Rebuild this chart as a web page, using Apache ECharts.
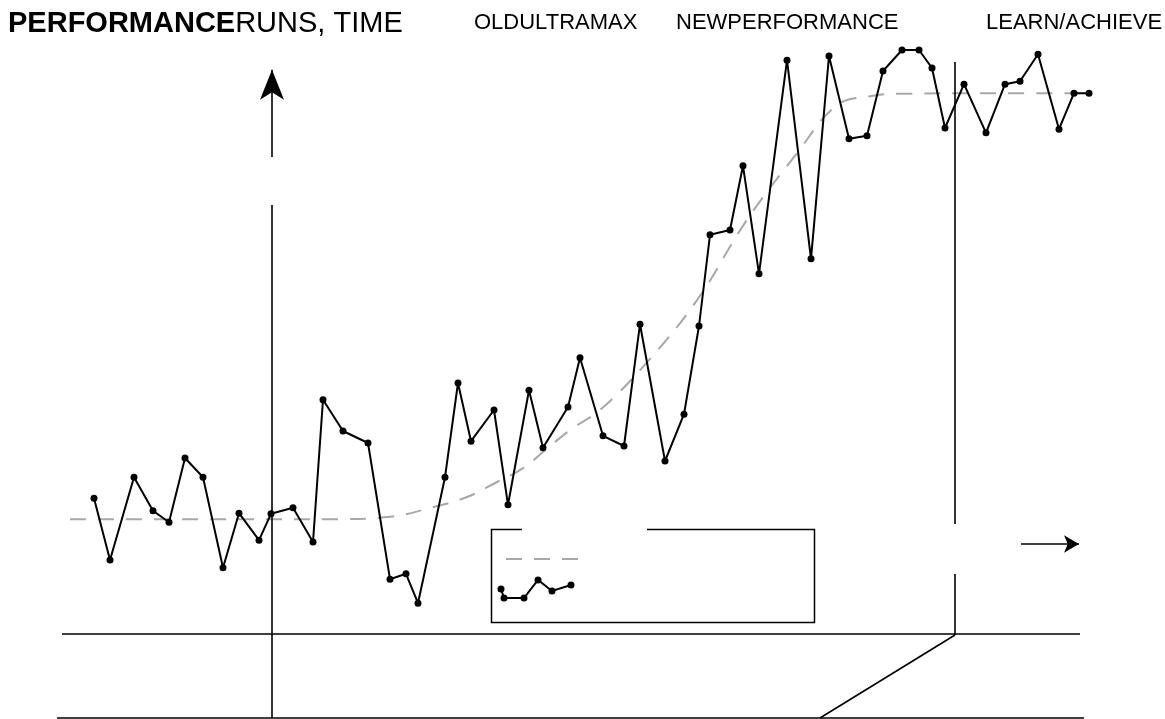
<!DOCTYPE html>
<html>
<head>
<meta charset="utf-8">
<script src="https://cdn.jsdelivr.net/npm/echarts@6/dist/echarts.min.js"></script>
<style>
html,body{margin:0;padding:0;background:#fff;}
#chart{width:1165px;height:719px;}
</style>
</head>
<body>
<div id="chart"></div>
<script>
// Runs (time) and performance values
const runTime = [9.4,11.0,13.4,15.3,16.9,18.5,20.3,22.3,23.9,25.9,27.1,29.3,31.3,32.3,34.3,36.8,39.0,40.6,41.8,44.5,45.8,47.1,49.4,50.8,52.9,54.3,56.8,58.0,60.3,62.4,64.0,66.5,68.4,69.9,71.0,73.0,74.3,75.9,78.7,81.1,82.9,84.9,86.7,88.3,90.2,91.9,93.2,94.5,96.4,98.6,100.5,102.0,103.8,105.9,107.4,108.9];
const performance = [36.8,26.5,40.3,34.7,32.8,43.5,40.3,25.2,34.3,29.8,34.2,35.2,29.5,53.2,48.0,46.0,23.3,24.2,19.3,40.3,56.0,46.3,51.5,35.7,54.8,45.2,52.0,60.2,47.2,45.5,65.8,43.0,50.8,65.5,80.7,81.5,92.2,74.2,109.8,76.7,110.5,96.7,97.2,108.0,111.5,111.5,108.5,98.5,105.8,97.7,105.8,106.3,110.8,98.3,104.3,104.3];
// Trend curve (old ultramax -> new performance)
const trendTime = [7.0,20.0,33.0,39.0,43.3,46.7,49.7,52.3,55.0,57.3,60.0,64.3,69.7,74.7,79.7,83.7,87.0,90.0,100.0,109.0];
const trendValue = [33.3,33.3,33.3,33.7,35.3,37.0,39.5,41.8,45.5,48.5,51.5,58.7,69.8,83.2,94.3,102.3,103.8,104.2,104.3,104.3];
// Top labels
const titleBold = 'PERFORMANCE';
const titleRest = 'RUNS, TIME';
const phaseLabels = ['OLDULTRAMAX', 'NEWPERFORMANCE', 'LEARN/ACHIEVE'];
// Guide lines in data coordinates: [x1, y1, x2, y2, arrowAtEnd]
const guideLines = [
  [27.2, 0.17, 27.2, 85.67, 0],
  [27.2, 93.67, 27.2, 108.2, 1],
  [95.5, 32.5, 95.5, 109.5, 0],
  [95.5, 14.0, 95.5, 24.17, 0],
  [6.2, 14.17, 108.0, 14.17, 0],
  [5.7, 0.17, 108.4, 0.17, 0],
  [95.5, 14.0, 82.0, 0.17, 0],
  [102.1, 29.17, 107.9, 29.17, 2]
];

const pairs = runTime.map((t, i) => [t, performance[i]]);
const trend = trendTime.map((t, i) => [t, trendValue[i]]);

const markData = guideLines.map(g => {
  const end = { coord: [g[2], g[3]], symbol: 'none' };
  if (g[4] === 1) { end.symbol = 'arrow'; end.symbolSize = [18, 30]; }
  if (g[4] === 2) { end.symbol = 'arrow'; end.symbolSize = [13, 15]; }
  return [{ coord: [g[0], g[1]], symbol: 'none' }, end];
});

const chart = echarts.init(document.getElementById('chart'), null, { renderer: 'canvas' });
const font = 'Arial, "Liberation Sans", sans-serif';
const labelStyle = { fontFamily: font, fontSize: 22, fontWeight: 'normal', color: '#000' };

chart.setOption({
  animation: false,
  backgroundColor: '#fff',
  title: [
    { left: 8, top: 9, padding: 0, text: '{b|' + titleBold + '}{r|' + titleRest + '}',
      textStyle: { rich: {
        b: { fontFamily: font, fontSize: 29, fontWeight: 'bold', color: '#000' },
        r: { fontFamily: font, fontSize: 29, fontWeight: 'normal', color: '#000' } } } },
    { left: 474, top: 12, padding: 0, text: phaseLabels[0], textStyle: labelStyle },
    { left: 676, top: 12, padding: 0, text: phaseLabels[1], textStyle: labelStyle },
    { left: 986, top: 12, padding: 0, text: phaseLabels[2], textStyle: labelStyle }
  ],
  grid: { left: 0, right: 0, top: 11, bottom: 0 },
  xAxis: { type: 'value', min: 0, max: 116.5, show: false },
  yAxis: { type: 'value', min: 0, max: 118, show: false },
  series: [
    { type: 'line', name: 'guides', data: [], silent: true,
      markLine: { silent: true, animation: false, symbol: ['none', 'none'],
        label: { show: false },
        lineStyle: { color: '#000', width: 1.6, type: 'solid' },
        emphasis: { disabled: true },
        data: markData } },
    { type: 'line', name: 'trend', data: trend, smooth: 0.4, showSymbol: false, symbol: 'none',
      lineStyle: { color: '#a8a8a8', width: 2, type: [16, 12] }, z: 2 },
    { type: 'line', name: 'performance', data: pairs, symbol: 'circle', symbolSize: 7, showSymbol: true,
      lineStyle: { color: '#000', width: 2 }, itemStyle: { color: '#000' }, z: 3 }
  ],
  graphic: [
    { type: 'polyline', silent: true, shape: { points: [[522,529.5],[491.5,529.5],[491.5,622.5],[814.5,622.5],[814.5,529.5],[647,529.5]] },
      style: { stroke: '#000', lineWidth: 1.5, fill: null } },
    { type: 'line', silent: true, shape: { x1: 506, y1: 559, x2: 580, y2: 559 },
      style: { stroke: '#a8a8a8', lineWidth: 2, lineDash: [16, 12] } },
    { type: 'polyline', silent: true, shape: { points: [[501,589],[504,598],[524,598],[538,580],[552,591],[571,585]] },
      style: { stroke: '#000', lineWidth: 2, fill: null } },
    { type: 'circle', silent: true, shape: { cx: 501, cy: 589, r: 3.5 }, style: { fill: '#000' } },
    { type: 'circle', silent: true, shape: { cx: 504, cy: 598, r: 3.5 }, style: { fill: '#000' } },
    { type: 'circle', silent: true, shape: { cx: 524, cy: 598, r: 3.5 }, style: { fill: '#000' } },
    { type: 'circle', silent: true, shape: { cx: 538, cy: 580, r: 3.5 }, style: { fill: '#000' } },
    { type: 'circle', silent: true, shape: { cx: 552, cy: 591, r: 3.5 }, style: { fill: '#000' } },
    { type: 'circle', silent: true, shape: { cx: 571, cy: 585, r: 3.5 }, style: { fill: '#000' } }
  ]
});
</script>
</body>
</html>
